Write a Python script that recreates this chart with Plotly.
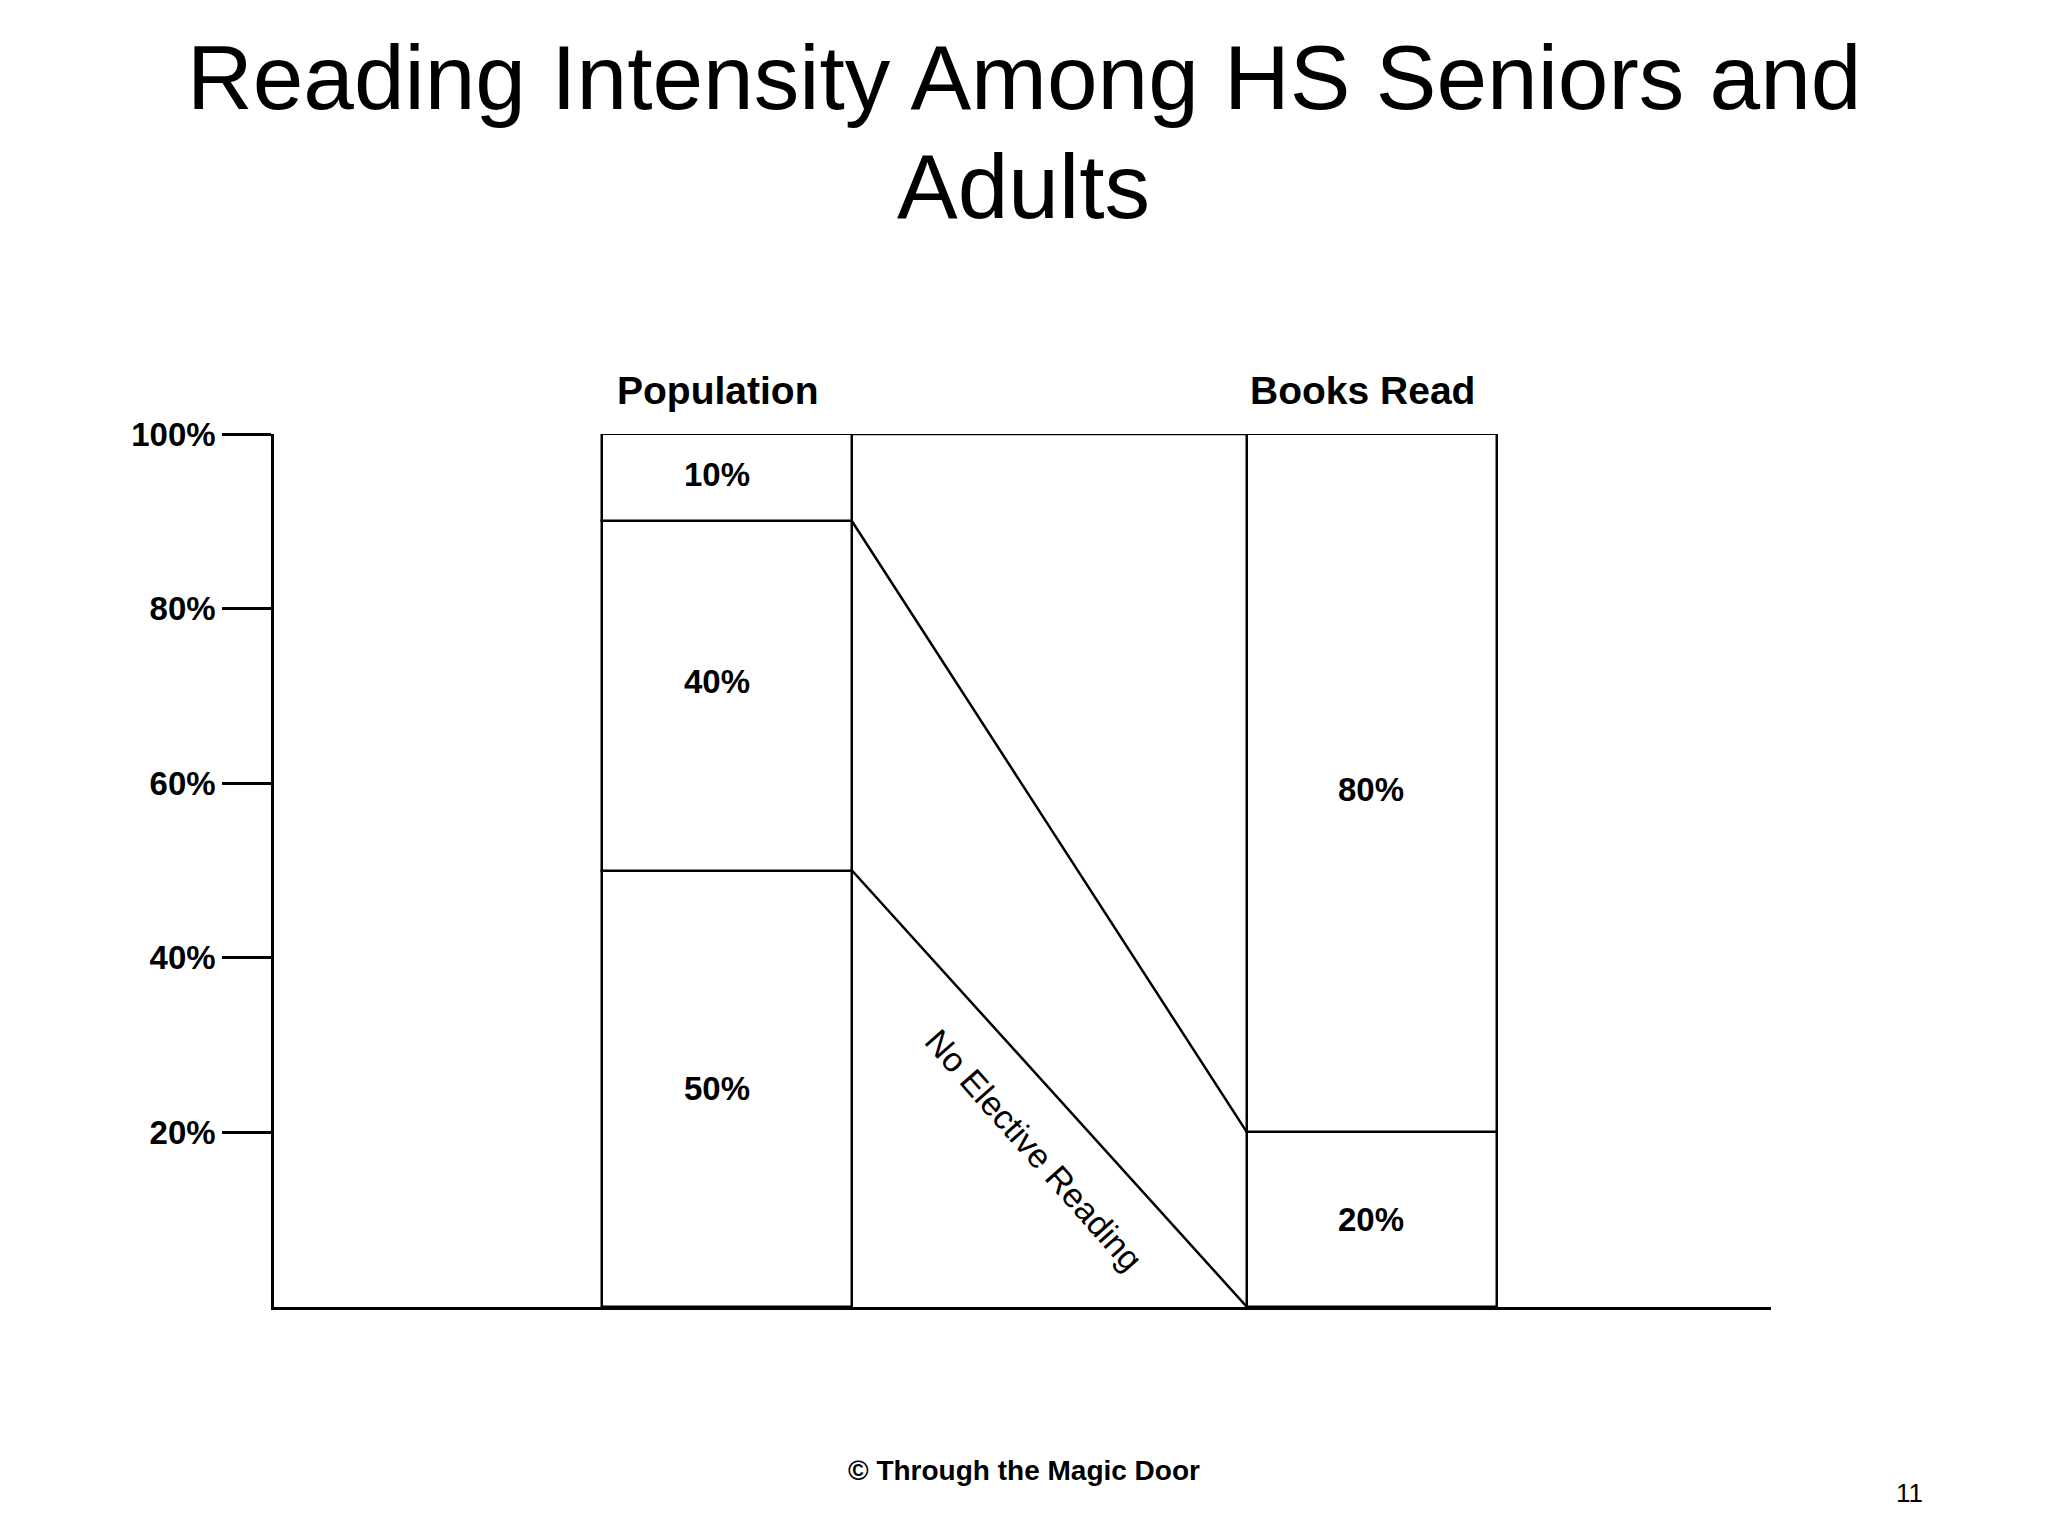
import plotly.graph_objects as go
import numpy as np

# ---------------- data ----------------
categories = ["Population", "Books Read"]
population_segments = [50, 40, 10]   # bottom -> top
books_segments = [20, 80]            # bottom -> top
y_tick_values = [20, 40, 60, 80, 100]
y_tick_labels = ["20%", "40%", "60%", "80%", "100%"]
title_lines = ["Reading Intensity Among HS Seniors and", "Adults"]
flow_label = "No Elective Reading"
footer_text = "© Through the Magic Door"
page_number = "11"

# ---------------- layout geometry ----------------
W, H = 2048, 1536
L, R, T, B = 274, 277, 434, 229
plot_h = H - T - B
bar_w = 1.0
x_range = [0, (W - L - R) / 250.0]
x_pos = {"Population": 1.812, "Books Read": 4.392}
LW = 2.5

FONT = "Arial, Liberation Sans, sans-serif"
BLACK = "#000000"


def py(px):
    return (H - B - px) / plot_h


fig = go.Figure()
annotations = []

# stacked bar segments
def add_stack(cat, segs, label_dx, label_yshift):
    cum = np.concatenate([[0], np.cumsum(segs)])
    for i, v in enumerate(segs):
        fig.add_trace(go.Bar(
            x=[x_pos[cat]], y=[v], base=[cum[i]], width=bar_w,
            marker=dict(color="white", line=dict(color=BLACK, width=LW)),
            cliponaxis=False, showlegend=False, hoverinfo="skip",
        ))
        annotations.append(dict(
            text=f"{v}%", xref="x", yref="y",
            x=x_pos[cat] + label_dx, y=cum[i] + v / 2, yshift=label_yshift[i],
            xanchor="center", yanchor="middle", showarrow=False,
            font=dict(family=FONT, size=33, color=BLACK, weight="bold")))
    return cum

pop_cum = add_stack("Population", population_segments, -0.04, [0, 14, 3])
book_cum = add_stack("Books Read", books_segments, -0.005, [0, -6])

# flow edges between the bars
xr = x_pos["Population"] + bar_w / 2
xl = x_pos["Books Read"] - bar_w / 2
edges = [(pop_cum[3], book_cum[2]), (pop_cum[2], book_cum[1]), (pop_cum[1], book_cum[0])]
for y0, y1 in edges:
    fig.add_trace(go.Scatter(
        x=[xr, xl], y=[y0, y1], mode="lines",
        line=dict(color=BLACK, width=LW), cliponaxis=False,
        showlegend=False, hoverinfo="skip",
    ))

# title lines
for txt, ypx in zip(title_lines, [77.5, 186.5]):
    annotations.append(dict(text=txt, xref="paper", yref="paper",
                            x=(1024 - L) / (W - L - R), y=py(ypx),
                            xanchor="center", yanchor="middle", showarrow=False,
                            font=dict(family=FONT, size=91, color=BLACK)))
# category headers
for cat in categories:
    annotations.append(dict(text=cat, xref="x", yref="paper",
                            x=x_pos[cat] - 0.04, y=py(390.5),
                            xanchor="center", yanchor="middle", showarrow=False,
                            font=dict(family=FONT, size=39, color=BLACK, weight="bold")))
# rotated flow label
annotations.append(dict(text=flow_label, xref="x", yref="y",
                        x=(1034 - L) / 250.0, y=(H - B - 1150) / plot_h * 100,
                        xanchor="center", yanchor="middle", showarrow=False,
                        textangle=48.5,
                        font=dict(family=FONT, size=34, color=BLACK)))
# footer
annotations.append(dict(text=footer_text, xref="paper", yref="paper",
                        x=(1024 - L) / (W - L - R), y=py(1470),
                        xanchor="center", yanchor="middle", showarrow=False,
                        font=dict(family=FONT, size=28, color=BLACK, weight="bold")))
annotations.append(dict(text=page_number, xref="paper", yref="paper",
                        x=(1909 - L) / (W - L - R), y=py(1493),
                        xanchor="center", yanchor="middle", showarrow=False,
                        font=dict(family=FONT, size=26, color=BLACK)))

fig.update_layout(
    width=W, height=H,
    margin=dict(l=L, r=R, t=T, b=B, pad=0),
    paper_bgcolor="white", plot_bgcolor="white",
    barmode="overlay", bargap=0,
    showlegend=False,
    annotations=annotations,
    xaxis=dict(range=x_range, showline=True, linecolor=BLACK, linewidth=LW,
               showticklabels=False, ticks="", showgrid=False, zeroline=False, fixedrange=True),
    yaxis=dict(range=[0, 100], showline=True, linecolor=BLACK, linewidth=LW,
               ticks="outside", ticklen=49, tickwidth=LW, tickcolor=BLACK,
               tickvals=y_tick_values, ticktext=y_tick_labels, ticklabelstandoff=0,
               tickfont=dict(family=FONT, size=33, color=BLACK, weight="bold"),
               showgrid=False, zeroline=False, fixedrange=True),
)

fig.write_html("out.html", post_script="document.body.style.margin='0px';document.body.style.overflow='hidden';",
               config={"displayModeBar": False})
